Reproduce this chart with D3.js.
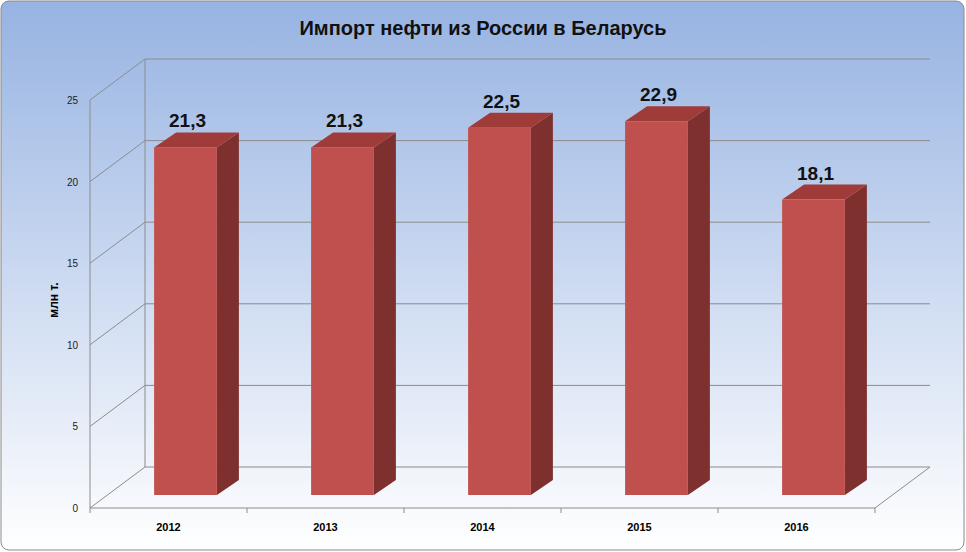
<!DOCTYPE html>
<html><head><meta charset="utf-8">
<script src="https://cdn.jsdelivr.net/npm/d3@7"></script>
<style>body{margin:0;}svg{display:block;font-family:"Liberation Sans",Arial,sans-serif;}</style>
</head><body><svg id="chart" width="966" height="552"></svg>
<script>
const years = ['2012', '2013', '2014', '2015', '2016'];
const values = [21.3, 21.3, 22.5, 22.9, 18.1];
const ticks = [0, 5, 10, 15, 20, 25];

const svg = d3.select('#chart');
const defs = svg.append('defs');
const grad = defs.append('linearGradient').attr('id', 'bg').attr('x1', 0).attr('y1', 0).attr('x2', 0).attr('y2', 1);
grad.append('stop').attr('offset', '0%').attr('stop-color', '#97b3e2');
grad.append('stop').attr('offset', '100%').attr('stop-color', '#ffffff');
svg.append('rect').attr('x', 1).attr('y', 1).attr('width', 963).attr('height', 549)
  .attr('rx', 8).attr('fill', 'url(#bg)').attr('stroke', '#8a8a8a');

svg.append('text').attr('x', 483).attr('y', 35).attr('text-anchor', 'middle')
  .attr('font-size', 20).attr('font-weight', 'bold').attr('fill', '#111')
  .text('Импорт нефти из России в Беларусь');

const x0 = 90, x1 = 875, dx = 55, dy = -41;
const y = d3.scaleLinear().domain([0, 25]).range([508, 100]);
const x = d3.scaleBand().domain(years).range([x0, x1]).paddingInner(0.6).paddingOuter(0.3);
const grid = '#8c8c8c';

const g = svg.append('g');
// back wall gridlines and floor
ticks.forEach(t => {
  g.append('line').attr('x1', x0 + dx).attr('x2', x1 + dx).attr('y1', y(t) + dy).attr('y2', y(t) + dy).attr('stroke', grid);
  g.append('line').attr('x1', x0).attr('x2', x0 + dx).attr('y1', y(t)).attr('y2', y(t) + dy).attr('stroke', grid);
});
g.append('line').attr('x1', x0 + dx).attr('x2', x0 + dx).attr('y1', y(0) + dy).attr('y2', y(25) + dy).attr('stroke', grid);
g.append('line').attr('x1', x0).attr('x2', x0).attr('y1', y(0)).attr('y2', y(25)).attr('stroke', grid);
g.append('line').attr('x1', x0).attr('x2', x1).attr('y1', y(0)).attr('y2', y(0)).attr('stroke', grid);
g.append('line').attr('x1', x1).attr('x2', x1 + dx).attr('y1', y(0)).attr('y2', y(0) + dy).attr('stroke', grid);
x.domain().forEach((d, i) => {
  const xt = x0 + (x1 - x0) / years.length * (i + 1);
  g.append('line').attr('x1', xt).attr('x2', xt).attr('y1', y(0)).attr('y2', y(0) + 5).attr('stroke', grid);
});
g.append('line').attr('x1', x0).attr('x2', x0).attr('y1', y(0)).attr('y2', y(0) + 5).attr('stroke', grid);

// tick labels
g.selectAll('.tick').data(ticks).enter().append('text')
  .attr('x', 78).attr('y', d => y(d) + 4).attr('text-anchor', 'end')
  .attr('font-size', 10).attr('fill', '#222').text(d => d);
g.append('text').attr('transform', 'translate(58,300) rotate(-90)').attr('text-anchor', 'middle')
  .attr('font-size', 12).attr('font-weight', 'bold').text('млн т.');

// bars
const off = { x: 17, y: -13 }, depth = { x: 22, y: -15 };
years.forEach((yr, i) => {
  const v = values[i];
  const bx = x(yr) + off.x, bw = x.bandwidth();
  const top = y(v) + off.y, bot = y(0) + off.y;
  g.append('path').attr('fill', '#7e302e')
    .attr('d', `M${bx + bw},${bot}L${bx + bw + depth.x},${bot + depth.y}L${bx + bw + depth.x},${top + depth.y}L${bx + bw},${top}Z`);
  g.append('path').attr('fill', '#9f3b39')
    .attr('d', `M${bx},${top}L${bx + depth.x},${top + depth.y}L${bx + bw + depth.x},${top + depth.y}L${bx + bw},${top}Z`);
  g.append('rect').attr('x', bx).attr('y', top).attr('width', bw).attr('height', bot - top).attr('fill', '#c0504d');
  g.append('text').attr('x', bx + bw / 2 + 2).attr('y', top - 20).attr('text-anchor', 'middle')
    .attr('font-size', 19).attr('font-weight', 'bold').attr('fill', '#111')
    .text(String(v).replace('.', ','));
  g.append('text').attr('x', x(yr) + bw / 2).attr('y', 531).attr('text-anchor', 'middle')
    .attr('font-size', 11).attr('font-weight', 'bold').text(yr);
});
</script></body></html>
